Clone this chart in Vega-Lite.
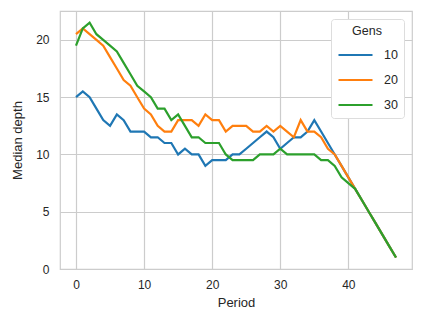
{
  "$schema": "https://vega.github.io/schema/vega-lite/v6.json",
  "width": 352,
  "height": 258,
  "autosize": {"type": "none"},
  "padding": {"left": 60, "top": 11, "right": 11, "bottom": 56},
  "background": "white",
  "config": {
    "font": "Liberation Sans",
    "view": {"stroke": "#cccccc", "strokeWidth": 1.2},
    "axis": {
      "domain": false,
      "ticks": false,
      "tickSize": 0,
      "grid": true,
      "gridColor": "#cccccc",
      "gridWidth": 1.2,
      "labelColor": "#262626",
      "labelFontSize": 12,
      "titleColor": "#262626",
      "titleFontSize": 13,
      "titleFontWeight": "normal"
    }
  },
  "datasets": {
    "raw": [
      {"Period": 0, "a": 15, "b": 20.5, "c": 19.5},
      {"Period": 1, "a": 15.5, "b": 21, "c": 21},
      {"Period": 2, "a": 15, "b": 20.5, "c": 21.5},
      {"Period": 3, "a": 14, "b": 20, "c": 20.5},
      {"Period": 4, "a": 13, "b": 19.5, "c": 20},
      {"Period": 5, "a": 12.5, "b": 18.5, "c": 19.5},
      {"Period": 6, "a": 13.5, "b": 17.5, "c": 19},
      {"Period": 7, "a": 13, "b": 16.5, "c": 18},
      {"Period": 8, "a": 12, "b": 16, "c": 17},
      {"Period": 9, "a": 12, "b": 15, "c": 16},
      {"Period": 10, "a": 12, "b": 14, "c": 15.5},
      {"Period": 11, "a": 11.5, "b": 13.5, "c": 15},
      {"Period": 12, "a": 11.5, "b": 12.5, "c": 14},
      {"Period": 13, "a": 11, "b": 12, "c": 14},
      {"Period": 14, "a": 11, "b": 12, "c": 13},
      {"Period": 15, "a": 10, "b": 13, "c": 13.5},
      {"Period": 16, "a": 10.5, "b": 13, "c": 12.5},
      {"Period": 17, "a": 10, "b": 13, "c": 11.5},
      {"Period": 18, "a": 10, "b": 12.5, "c": 11.5},
      {"Period": 19, "a": 9, "b": 13.5, "c": 11},
      {"Period": 20, "a": 9.5, "b": 13, "c": 11},
      {"Period": 21, "a": 9.5, "b": 13, "c": 11},
      {"Period": 22, "a": 9.5, "b": 12, "c": 10},
      {"Period": 23, "a": 10, "b": 12.5, "c": 9.5},
      {"Period": 24, "a": 10, "b": 12.5, "c": 9.5},
      {"Period": 25, "a": 10.5, "b": 12.5, "c": 9.5},
      {"Period": 26, "a": 11, "b": 12, "c": 9.5},
      {"Period": 27, "a": 11.5, "b": 12, "c": 10},
      {"Period": 28, "a": 12, "b": 12.5, "c": 10},
      {"Period": 29, "a": 11.5, "b": 12, "c": 10},
      {"Period": 30, "a": 10.5, "b": 12.5, "c": 10.5},
      {"Period": 31, "a": 11, "b": 12, "c": 10},
      {"Period": 32, "a": 11.5, "b": 11.5, "c": 10},
      {"Period": 33, "a": 11.5, "b": 13, "c": 10},
      {"Period": 34, "a": 12, "b": 12, "c": 10},
      {"Period": 35, "a": 13, "b": 12, "c": 10},
      {"Period": 36, "a": 12, "b": 11.5, "c": 9.5},
      {"Period": 37, "a": 11, "b": 10.5, "c": 9.5},
      {"Period": 38, "a": 10, "b": 10, "c": 9},
      {"Period": 39, "a": 9, "b": 9, "c": 8},
      {"Period": 40, "a": 8, "b": 8, "c": 7.5},
      {"Period": 41, "a": 7, "b": 7, "c": 7},
      {"Period": 42, "a": 6, "b": 6, "c": 6},
      {"Period": 43, "a": 5, "b": 5, "c": 5},
      {"Period": 44, "a": 4, "b": 4, "c": 4},
      {"Period": 45, "a": 3, "b": 3, "c": 3},
      {"Period": 46, "a": 2, "b": 2, "c": 2},
      {"Period": 47, "a": 1, "b": 1, "c": 1}
    ]
  },
  "data": {"name": "raw"},
  "transform": [
    {"fold": ["a", "b", "c"], "as": ["key", "Median depth"]},
    {"lookup": "key", "from": {"data": {"values": [{"key": "a", "Gens": "10"}, {"key": "b", "Gens": "20"}, {"key": "c", "Gens": "30"}]}, "key": "key", "fields": ["Gens"]}}
  ],
  "mark": {"type": "line", "strokeWidth": 2.2},
  "encoding": {
    "x": {
      "field": "Period",
      "type": "quantitative",
      "scale": {"domain": [-2.35, 49.35], "nice": false, "zero": false},
      "axis": {"values": [0, 10, 20, 30, 40], "title": "Period", "labelPadding": 10, "titlePadding": 6}
    },
    "y": {
      "field": "Median depth",
      "type": "quantitative",
      "scale": {"domain": [0, 22.525], "nice": false},
      "axis": {"values": [0, 5, 10, 15, 20], "title": "Median depth", "labelPadding": 11, "titlePadding": 11}
    },
    "color": {
      "field": "Gens",
      "type": "nominal",
      "scale": {"domain": ["10", "20", "30"], "range": ["#1f77b4", "#ff7f0e", "#2ca02c"]},
      "legend": {
        "orient": "none",
        "legendX": 271,
        "legendY": 8,
        "title": "Gens",
        "titleFontSize": 12.5,
        "titleFontWeight": "normal",
        "titleColor": "#262626",
        "titleAnchor": "middle",
        "titleAlign": "center",
        "titlePadding": -1,
        "labelFontSize": 12.5,
        "labelColor": "#262626",
        "labelOffset": 10,
        "symbolType": "stroke",
        "symbolSize": 1156,
        "symbolStrokeWidth": 2.2,
        "rowPadding": -6,
        "padding": 6,
        "fillColor": "white",
        "strokeColor": "#dddddd",
        "cornerRadius": 3
      }
    }
  }
}
